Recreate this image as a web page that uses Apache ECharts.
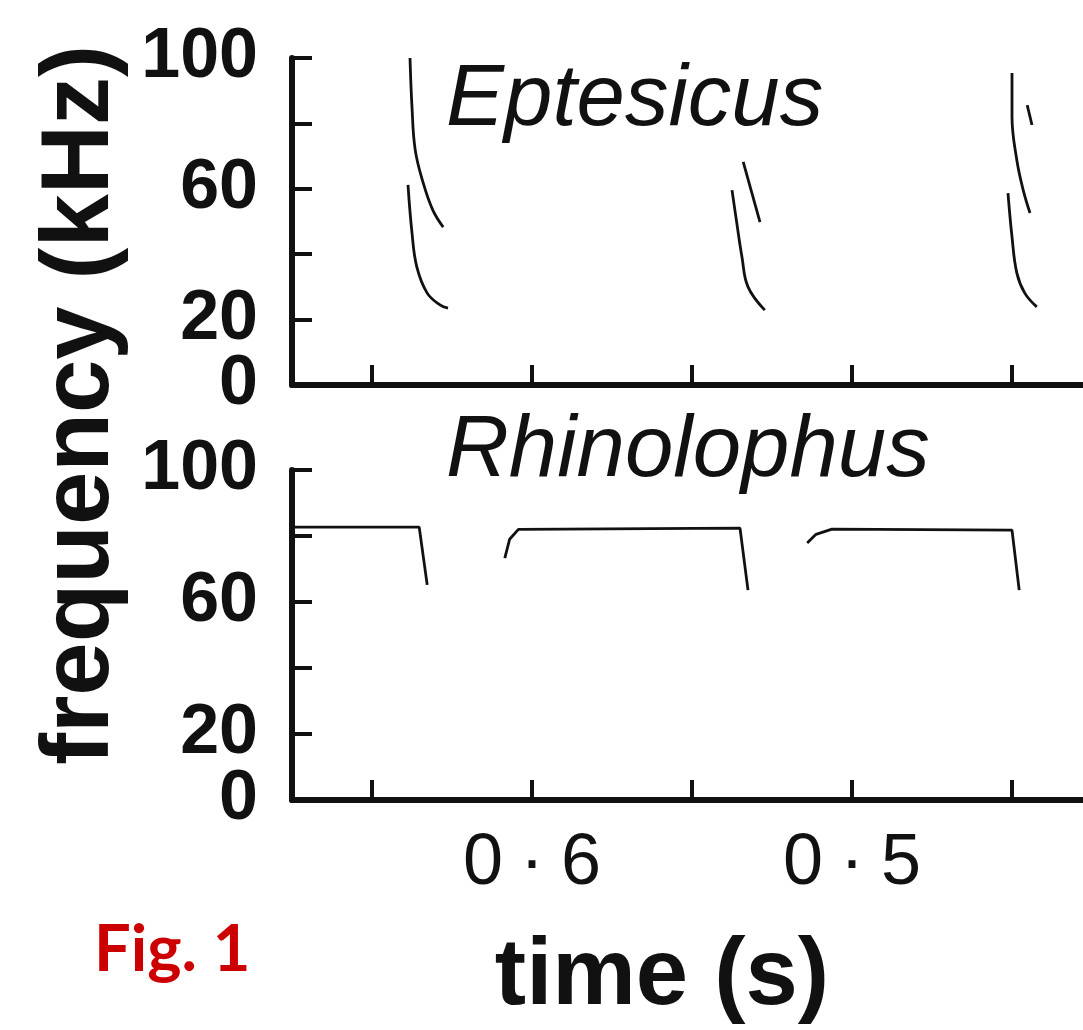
<!DOCTYPE html>
<html>
<head>
<meta charset="utf-8">
<script src="https://cdn.jsdelivr.net/npm/echarts@6/dist/echarts.min.js"></script>
<style>
  html, body { margin: 0; padding: 0; background: #fff; }
  #chart { width: 1083px; height: 1030px; }
</style>
</head>
<body>
<div id="chart"></div>
<script>
// axis ticks / labels
const xTickValues = [10, 30, 50, 70, 90]
const xLabelValues = [30, 70]
const xLabelTexts = ['0·6', '0·5']
const yTickLabels = [20, 60, 100]
const yZeroLabel = [0]

// Eptesicus (FM sweeps) [time, kHz]
const eptUpper1 = [[14.75, 100], [15.0, 85.0], [15.4, 71.9], [16.4, 61.8], [17.6, 53.5], [18.9, 48.3]]
const eptLower1 = [[14.5, 61.2], [15.0, 46.5], [15.6, 36.1], [16.9, 28.1], [18.5, 24.5], [19.5, 23.5]]
const eptUpper2 = [[56.4, 68.2], [58.5, 49.8]]
const eptLower2 = [[55.0, 59.6], [55.6, 49.5], [56.25, 39.1], [57.0, 30.0], [59.1, 22.9]]
const eptUpper3 = [[90.0, 95.4], [90.0, 82.0], [90.6, 68.8], [91.4, 59.6], [92.25, 52.6]]
const eptThird3 = [[91.9, 85.6], [92.5, 79.5]]
const eptLower3 = [[89.5, 58.7], [90.0, 45.3], [90.6, 34.3], [91.6, 28.1], [93.1, 23.9]]

// Rhinolophus (CF-FM calls)
const rhiCall1 = [[0, 82.7], [15.9, 82.7], [16.9, 65.2]]
const rhiCall2 = [[26.6, 73.3], [27.2, 79.0], [28.3, 82.0], [56.0, 82.4], [57.0, 63.6]]
const rhiCall3 = [[64.4, 77.9], [65.5, 80.5], [67.5, 82.1], [90.0, 81.8], [90.9, 63.6]]

const INK = '#111'
const SANS = "'Liberation Sans', Arial, sans-serif"

function xAxisOf(gridIndex, showLabels) {
  return {
    type: 'value', gridIndex: gridIndex, min: 0, max: 98.875,
    splitLine: { show: false },
    axisLine: { lineStyle: { color: INK, width: 6 } },
    axisTick: { inside: true, length: 20, customValues: xTickValues, lineStyle: { color: INK, width: 4 } },
    axisLabel: {
      show: showLabels,
      customValues: xLabelValues,
      margin: 28,
      formatter: function (v) {
        const s = xLabelTexts[xLabelValues.indexOf(v)] || ''
        const parts = s.split('·')
        return '{d|' + parts[0] + '}{m|·}{d|' + parts[1] + '}'
      },
      rich: {
        d: { fontFamily: SANS, fontSize: 72, color: INK },
        m: { fontFamily: SANS, fontSize: 72, color: INK, padding: [0, 17] }
      }
    }
  }
}

const yLabelStyle = { margin: 34, fontFamily: SANS, fontWeight: 'bold', fontSize: 70, color: INK }

function yAxisOf(gridIndex) {
  return {
    type: 'value', gridIndex: gridIndex, min: 0, max: 100, interval: 20,
    splitLine: { show: false },
    axisLine: { show: true, lineStyle: { color: INK, width: 6 } },
    axisTick: { inside: true, length: 20, lineStyle: { color: INK, width: 4 } },
    axisLabel: Object.assign({ customValues: yTickLabels, showMaxLabel: true }, yLabelStyle)
  }
}

// label-only axis for the "0" so it isn't dropped as overlapping the "20"
function yZeroAxisOf(gridIndex) {
  return {
    type: 'value', gridIndex: gridIndex, min: 0, max: 100, position: 'left',
    splitLine: { show: false },
    axisLine: { show: false },
    axisTick: { show: false },
    axisLabel: Object.assign({ customValues: yZeroLabel, showMinLabel: true }, yLabelStyle)
  }
}

function curve(data, xi, smooth) {
  return {
    type: 'line', xAxisIndex: xi, yAxisIndex: xi, data: data,
    smooth: smooth, symbol: 'none', silent: true,
    lineStyle: { color: INK, width: 2.8 }
  }
}

const chart = echarts.init(document.getElementById('chart'))
chart.setOption({
  backgroundColor: '#fff',
  animation: false,
  grid: [
    { left: 292, top: 58, right: 0, height: 327 },
    { left: 292, top: 470, right: 0, height: 330 }
  ],
  xAxis: [xAxisOf(0, false), xAxisOf(1, true)],
  yAxis: [yAxisOf(0), yAxisOf(1), yZeroAxisOf(0), yZeroAxisOf(1)],
  series: [
    curve(eptUpper1, 0, 0.4),
    curve(eptLower1, 0, 0.4),
    curve(eptUpper2, 0, false),
    curve(eptLower2, 0, 0.4),
    curve(eptUpper3, 0, 0.4),
    curve(eptThird3, 0, false),
    curve(eptLower3, 0, 0.4),
    curve(rhiCall1, 1, false),
    curve(rhiCall2, 1, false),
    curve(rhiCall3, 1, false)
  ],
  graphic: [
    {
      type: 'text', x: 446, y: 144,
      style: { text: 'Eptesicus', fontFamily: SANS, fontStyle: 'italic', fontSize: 87, fill: INK, textVerticalAlign: 'bottom' }
    },
    {
      type: 'text', x: 446, y: 495,
      style: { text: 'Rhinolophus', fontFamily: SANS, fontStyle: 'italic', fontSize: 87, fill: INK, textVerticalAlign: 'bottom' }
    },
    {
      type: 'text', x: 82, y: 405, rotation: Math.PI / 2,
      style: { text: 'frequency (kHz)', fontFamily: SANS, fontWeight: 'bold', fontSize: 96, fill: INK, textAlign: 'center', textVerticalAlign: 'middle' }
    },
    {
      type: 'text', x: 662, y: 978,
      style: { text: 'time (s)', fontFamily: SANS, fontWeight: 'bold', fontSize: 94, fill: INK, textAlign: 'center', textVerticalAlign: 'middle' }
    },
    {
      type: 'text', x: 94, y: 950,
      style: { text: 'Fig. 1', fontFamily: "Lato, 'Noto Sans', sans-serif", fontWeight: 'bold', fontSize: 65, fill: '#cc0000', textVerticalAlign: 'middle' }
    }
  ]
})
</script>
</body>
</html>
